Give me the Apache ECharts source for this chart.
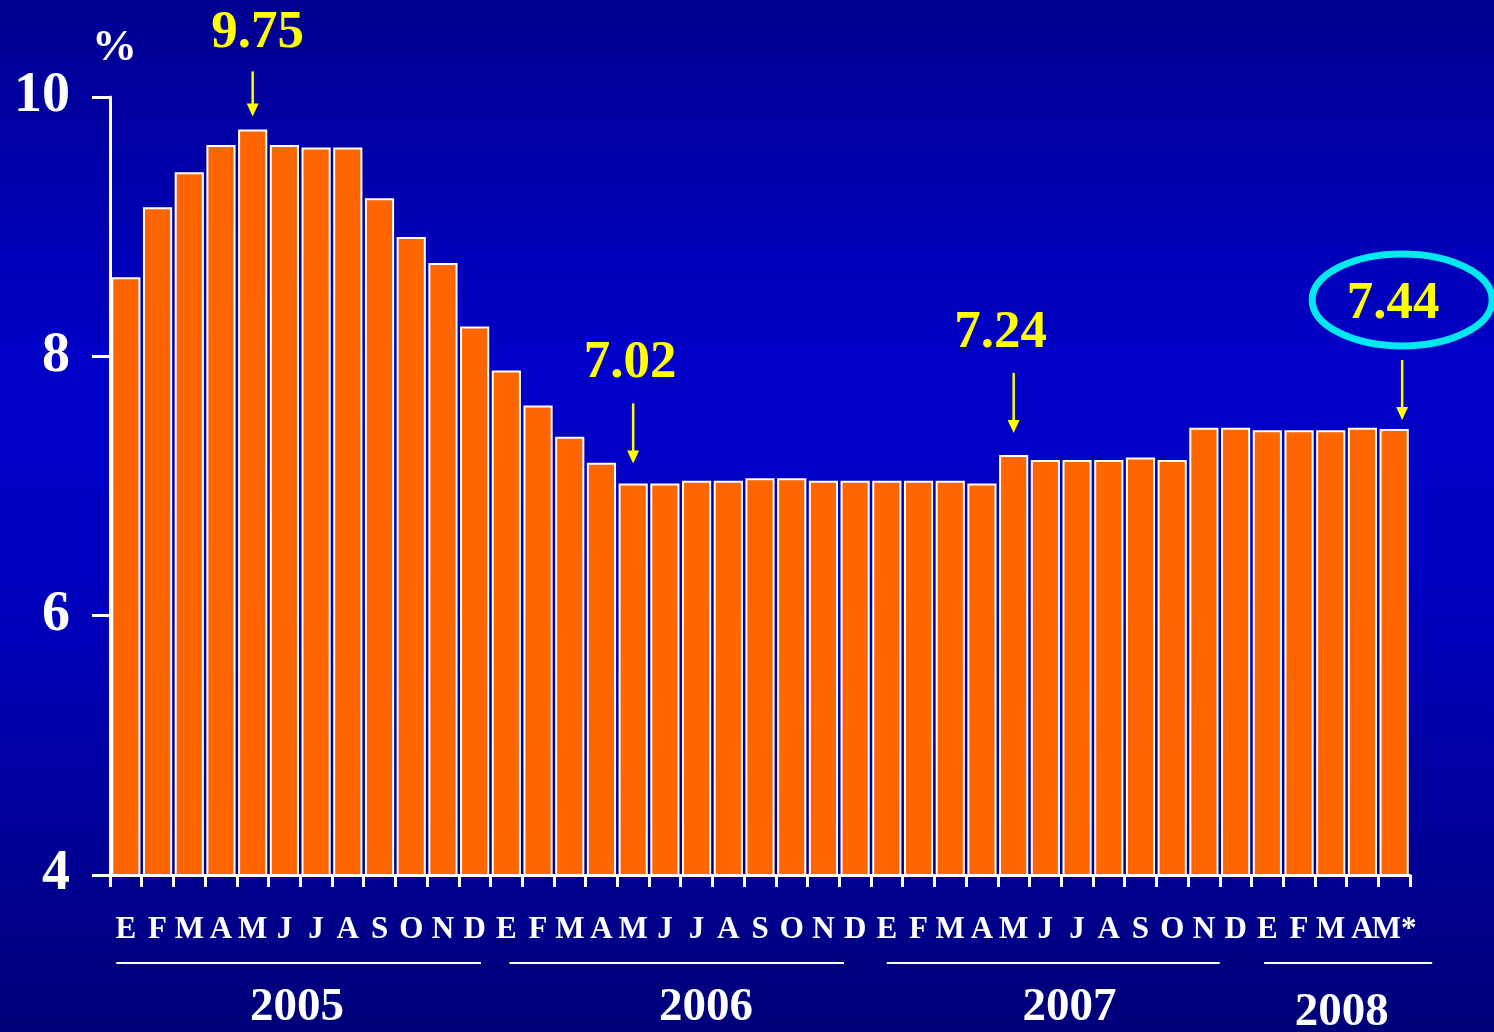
<!DOCTYPE html>
<html>
<head>
<meta charset="utf-8">
<script src="https://cdn.jsdelivr.net/npm/echarts@6/dist/echarts.min.js"></script>
<style>
    html, body { margin: 0; padding: 0; }
    #chart { width: 1494px; height: 1032px; }
</style>
</head>
<body>
<div id="chart"></div>
<script>
// meses (E = enero) 2005 - mayo 2008
const months = [
    'E', 'F', 'M', 'A', 'M', 'J', 'J', 'A', 'S', 'O', 'N', 'D',
    'E', 'F', 'M', 'A', 'M', 'J', 'J', 'A', 'S', 'O', 'N', 'D',
    'E', 'F', 'M', 'A', 'M', 'J', 'J', 'A', 'S', 'O', 'N', 'D',
    'E', 'F', 'M', 'A', 'M*',
];
const rates = [
    8.61, 9.15, 9.42, 9.63, 9.75, 9.63, 9.61, 9.61, 9.22, 8.92, 8.72, 8.23,
    7.89, 7.62, 7.38, 7.18, 7.02, 7.02, 7.04, 7.04, 7.06, 7.06, 7.04, 7.04,
    7.04, 7.04, 7.04, 7.02, 7.24, 7.20, 7.20, 7.20, 7.22, 7.20, 7.45, 7.45,
    7.43, 7.43, 7.43, 7.45, 7.44,
];
const years = ['2005', '2006', '2007', '2008'];
const callouts = [4, 16, 28, 40];
const yTicks = [4, 6, 8, 10];

const serif = '"Liberation Serif", "Times New Roman", serif';
const chart = echarts.init(document.getElementById('chart'));

chart.setOption({
    animation: false,
    backgroundColor: {
        type: 'linear', x: 0, y: 0, x2: 0, y2: 1,
        colorStops: [
            { offset: 0, color: '#000090' },
            { offset: 0.35, color: '#0000C8' },
            { offset: 0.55, color: '#0000C4' },
            { offset: 1, color: '#000078' },
        ],
    },
    grid: { left: 110, right: 84, top: 97, bottom: 157 },
    xAxis: {
        type: 'category',
        data: months,
        axisLine: { lineStyle: { color: '#fff', width: 3 } },
        axisTick: { show: true, alignWithLabel: false, length: 12, lineStyle: { color: '#fff', width: 3 } },
        axisLabel: {
            interval: 0,
            color: '#fff',
            fontFamily: serif,
            fontWeight: 'bold',
            fontSize: 31,
            margin: 39,
            textShadowColor: 'rgba(0,0,0,0.8)',
            textShadowOffsetX: 1,
            textShadowOffsetY: 1,
        },
    },
    yAxis: {
        type: 'value',
        min: yTicks[0],
        max: yTicks[yTicks.length - 1],
        interval: 2,
        splitLine: { show: false },
        axisLine: { show: true, lineStyle: { color: '#fff', width: 3 } },
        axisTick: { show: true, length: 18, lineStyle: { color: '#fff', width: 3 } },
        axisLabel: {
            color: '#fff',
            fontFamily: serif,
            fontWeight: 'bold',
            fontSize: 56,
            margin: 40,
            textShadowColor: 'rgba(0,0,0,0.9)',
            textShadowOffsetX: 2,
            textShadowOffsetY: 2,
        },
    },
    series: [
        {
            type: 'bar',
            data: rates,
            barCategoryGap: '8%',
            itemStyle: { color: '#FF6600', borderColor: '#fff', borderWidth: 2 },
        },
    ],
});

// anotaciones: se colocan a partir de la escala del gráfico
const px = (i, v) => chart.convertToPixel({ seriesIndex: 0 }, [i, v]);
const x0 = px(0, 4)[0];
const step = px(1, 4)[0] - x0;
const catX = (f) => x0 + f * step;
const yellow = '#FFFF00';

const graphics = [];

graphics.push({
    type: 'text', left: 92, top: 26,
    style: {
        text: '%', fill: '#fff', font: `bold 45px ${serif}`,
        shadowColor: 'rgba(0,0,0,0.9)', shadowOffsetX: 2, shadowOffsetY: 2,
    },
});

// desplazamientos verticales de flecha y rótulo (px sobre la barra)
const arrowTop = [58, 80, 82, 69];
const arrowEnd = [13, 20, 22, 9];
const labelUp = [96, 120, 122, 125];
const labelDx = [5, -3, -13, -1];

callouts.forEach((idx, k) => {
    const [cx, top] = px(idx, rates[idx]);
    const ax = cx + (k === 3 ? 8 : 0);
    const y1 = top - arrowTop[k];
    const y2 = top - arrowEnd[k];
    graphics.push({
        type: 'line',
        shape: { x1: ax, y1: y1, x2: ax, y2: y2 - 10 },
        style: { stroke: yellow, lineWidth: 2.5 },
    });
    graphics.push({
        type: 'polygon',
        shape: { points: [[ax - 6, y2 - 13], [ax + 6, y2 - 13], [ax, y2]] },
        style: { fill: yellow },
    });
    graphics.push({
        type: 'text',
        x: cx + labelDx[k], y: top - labelUp[k],
        style: {
            text: rates[idx].toFixed(2), fill: yellow, font: `bold 53px ${serif}`,
            align: 'center', verticalAlign: 'middle',
        },
    });
    if (k === 3) {
        graphics.push({
            type: 'ellipse',
            shape: { cx: cx + 8, cy: top - 129, rx: 90, ry: 46 },
            style: { fill: 'none', stroke: '#00E8F0', lineWidth: 7 },
        });
    }
});

// líneas y rótulos de años (posiciones en índices de categoría)
const lineFrom = [-0.3, 12.1, 24.0, 35.9];
const lineTo = [11.2, 22.65, 34.5, 41.2];
const yearAt = [5.4, 18.3, 29.76, 38.35];
years.forEach((yr, k) => {
    graphics.push({
        type: 'line',
        shape: { x1: catX(lineFrom[k]), y1: 963, x2: catX(lineTo[k]), y2: 963 },
        style: { stroke: '#fff', lineWidth: 2 },
    });
    graphics.push({
        type: 'text',
        x: catX(yearAt[k]), y: k === 3 ? 1013 : 1008,
        style: {
            text: yr, fill: '#fff', font: `bold 47px ${serif}`,
            align: 'center', verticalAlign: 'middle',
            shadowColor: 'rgba(0,0,0,0.9)', shadowOffsetX: 2, shadowOffsetY: 2,
        },
    });
});

chart.setOption({ graphic: graphics });
</script>
</body>
</html>
